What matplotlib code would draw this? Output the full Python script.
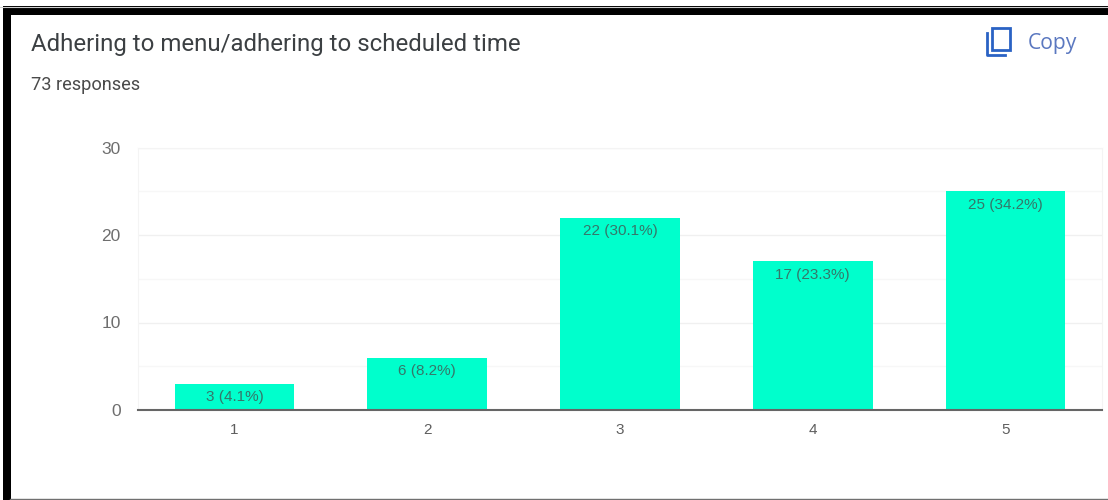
import matplotlib
matplotlib.use('Agg')
import matplotlib.pyplot as plt
from matplotlib.patches import Rectangle
from matplotlib.lines import Line2D

categories = ['1', '2', '3', '4', '5']
counts = [3, 6, 22, 17, 25]
percents = [4.1, 8.2, 30.1, 23.3, 34.2]
yticks = [0, 10, 20, 30]
yminor = [5, 15, 25]
title = 'Adhering to menu/adhering to scheduled time'
subtitle = '73 responses'

W, H = 1108, 500
plt.rcParams['font.family'] = ['Roboto', 'DejaVu Sans']

fig = plt.figure(figsize=(W/100, H/100), dpi=100, facecolor='white')

def fx(x):
    return x/W

def fy(y):
    return 1 - y/H

# black frame of the screenshot
fig.add_artist(Rectangle((fx(3), fy(500)), 7.5/W, 493/H, transform=fig.transFigure, color='black', lw=0))
fig.add_artist(Rectangle((fx(3), fy(14.5)), 1105/W, 8/H, transform=fig.transFigure, color='black', lw=0))
fig.add_artist(Line2D([fx(0), fx(1108)], [fy(6.5), fy(6.5)], color='#d0d0d0', lw=0.8))
fig.add_artist(Line2D([fx(10), fx(1108)], [fy(499), fy(499)], color='#707070', lw=1))

ax = fig.add_axes([fx(138), fy(410), 964/W, 262.5/H])
pos = list(range(len(categories)))
ax.bar(pos, counts, width=0.62, color='#00ffcc', zorder=2)
ax.set_xlim(-0.5, 4.5)
ax.set_ylim(0, 30)

for i, (c, p) in enumerate(zip(counts, percents)):
    ax.annotate(f'{c} ({p}%)', (i, c), xytext=(0, -4.5), textcoords='offset points',
                ha='center', va='top', fontsize=11, color='#35776a', zorder=3,
                family=['Liberation Sans', 'DejaVu Sans'])

ax.set_yticks(yticks)
ax.set_yticks(yminor, minor=True)
ax.set_xticks(pos)
ax.set_xticklabels(categories)
ax.tick_params(axis='both', which='both', length=0)
ax.tick_params(axis='y', pad=12.5, labelsize=12.5, labelcolor='#6e6e6e')
ax.tick_params(axis='x', pad=9, labelsize=11, labelcolor='#5e5e5e')
for lab in ax.get_xticklabels() + ax.get_yticklabels():
    lab.set_family(['Liberation Sans', 'DejaVu Sans'])
ax.grid(True, axis='y', which='major', color='#f0f0f0', lw=1, zorder=0)
ax.grid(True, axis='y', which='minor', color='#f7f7f7', lw=1, zorder=0)
for s in ['top', 'right', 'left']:
    ax.spines[s].set_color('#f4f4f4')
ax.spines['bottom'].set_color('#666666')
ax.spines['bottom'].set_linewidth(1.5)
ax.spines['bottom'].set_zorder(4)

fig.text(fx(31), fy(44), title, fontsize=17.3, color='#3c4043', va='center', ha='left')
fig.text(fx(31), fy(85), subtitle, fontsize=13.1, color='#4a4a4a', va='center', ha='left')

# copy icon
blue = '#2a62c4'
fig.add_artist(Rectangle((fx(992), fy(50)), 18/W, 22/H, transform=fig.transFigure,
                         fill=False, edgecolor=blue, lw=2))
fig.add_artist(Line2D([fx(987), fx(987), fx(1005)], [fy(33), fy(55), fy(55)], color=blue, lw=2))
fig.text(fx(1028), fy(43), 'Copy', fontsize=15.2, color='#5b78c0', va='center', ha='left',
         family=['Open Sans', 'DejaVu Sans'])

fig.savefig('out.png', dpi=100)
